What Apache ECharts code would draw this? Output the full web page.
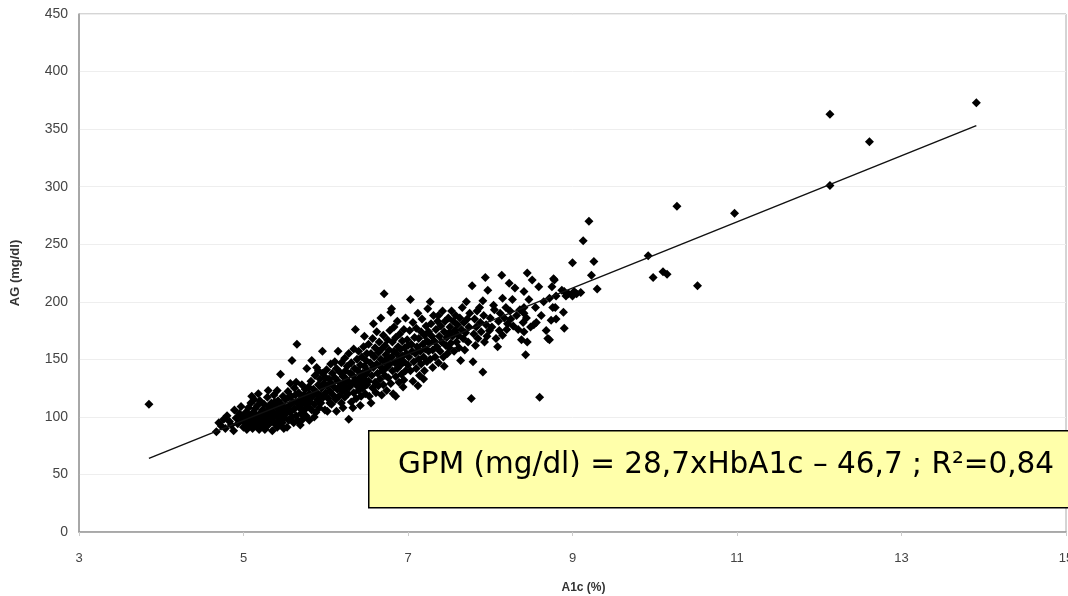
<!DOCTYPE html>
<html>
<head>
<meta charset="utf-8">
<style>
  html, body { margin: 0; padding: 0; background: #fff; }
  #chart { width: 1068px; height: 596px; }
</style>
<script src="https://cdn.jsdelivr.net/npm/echarts@6/dist/echarts.min.js"></script>
</head>
<body>
<div id="chart"></div>
<script>
  // axis ticks
  var xTicks = [3, 5, 7, 9, 11, 13, 15];
  var yTicks = [0, 50, 100, 150, 200, 250, 300, 350, 400, 450];

  // [A1c %, AG mg/dl], grouped by A1c band
  var band46 = [[4.67,87],[4.70,95],[4.73,92],[4.76,98],[4.78,90],[4.80,101],[4.83,96],[4.85,93],[4.88,88],[4.89,106],[4.91,99],[4.93,94],[4.95,103],[4.97,109],[4.98,97],[5.00,91],[5.00,100]];
  var band50 = [[5.02,95],[5.03,104],[5.04,89],[5.05,98],[5.06,108],[5.07,93],[5.08,101],[5.09,112],[5.10,118],[5.10,96],[5.11,90],[5.12,104],[5.13,99],[5.14,107],[5.15,93],[5.16,101],[5.17,110],[5.18,96],[5.19,89],[5.20,103],[5.20,114],[5.21,98],[5.22,92],[5.23,106],[5.24,100],[5.25,111],[5.25,95],[5.13,115],[5.06,102],[5.18,120]];
  var band525 = [[5.26,89],[5.27,104],[5.28,98],[5.29,117],[5.30,123],[5.30,93],[5.31,108],[5.32,101],[5.33,96],[5.34,112],[5.35,88],[5.35,105],[5.36,99],[5.37,119],[5.38,94],[5.39,109],[5.40,102],[5.41,123],[5.41,91],[5.42,114],[5.43,97],[5.44,106],[5.45,137],[5.45,100],[5.46,111],[5.47,95],[5.48,118],[5.48,104],[5.49,90],[5.50,108],[5.50,99],[5.38,113],[5.32,110],[5.44,93],[5.29,102]];
  var band55 = [[5.51,115],[5.52,103],[5.53,91],[5.54,122],[5.55,97],[5.56,110],[5.57,129],[5.57,104],[5.58,118],[5.59,149],[5.59,100],[5.60,113],[5.61,95],[5.62,125],[5.62,107],[5.63,119],[5.64,101],[5.65,163],[5.65,112],[5.66,97],[5.67,121],[5.68,108],[5.69,115],[5.70,103],[5.71,128],[5.71,111],[5.72,98],[5.73,119],[5.74,106],[5.75,113],[5.75,124],[5.55,117],[5.64,130],[5.53,108],[5.69,93]];
  var band575 = [[5.76,101],[5.77,142],[5.77,117],[5.78,109],[5.79,126],[5.80,97],[5.80,120],[5.81,113],[5.82,131],[5.83,149],[5.83,106],[5.84,118],[5.85,124],[5.86,111],[5.87,136],[5.88,104],[5.89,143],[5.89,121],[5.90,115],[5.91,128],[5.92,108],[5.93,133],[5.93,119],[5.94,112],[5.95,125],[5.96,157],[5.96,138],[5.97,117],[5.98,129],[5.99,106],[6.00,121],[6.00,134],[5.86,100],[5.91,140],[5.79,114]];
  var band60 = [[6.01,141],[6.02,105],[6.02,127],[6.03,116],[6.04,133],[6.05,122],[6.06,146],[6.07,111],[6.07,129],[6.08,138],[6.09,119],[6.10,126],[6.11,134],[6.12,115],[6.13,105],[6.13,142],[6.14,124],[6.15,157],[6.15,131],[6.16,118],[6.17,139],[6.18,127],[6.19,147],[6.19,112],[6.20,122],[6.21,135],[6.22,129],[6.23,117],[6.23,151],[6.24,140],[6.25,125],[6.25,133],[6.05,112],[6.11,148],[6.21,108]];
  var band625 = [[6.26,144],[6.27,120],[6.27,131],[6.28,155],[6.29,126],[6.30,138],[6.31,113],[6.31,147],[6.32,129],[6.33,136],[6.34,159],[6.34,121],[6.35,142],[6.36,176],[6.36,132],[6.37,116],[6.38,150],[6.38,127],[6.39,140],[6.40,123],[6.40,157],[6.41,134],[6.42,145],[6.43,118],[6.43,130],[6.44,152],[6.45,138],[6.45,125],[6.46,161],[6.47,144],[6.47,133],[6.48,120],[6.49,149],[6.49,137],[6.50,128],[6.50,155],[6.28,98],[6.33,108],[6.42,110],[6.47,170]];
  var band65 = [[6.51,140],[6.52,163],[6.52,131],[6.53,118],[6.54,147],[6.55,112],[6.55,155],[6.56,136],[6.57,125],[6.57,168],[6.58,143],[6.59,152],[6.60,130],[6.60,160],[6.61,121],[6.62,146],[6.62,174],[6.63,138],[6.64,156],[6.64,127],[6.65,165],[6.66,144],[6.66,133],[6.67,150],[6.68,119],[6.68,159],[6.69,140],[6.70,171],[6.70,128],[6.71,207],[6.71,148],[6.72,136],[6.72,162],[6.73,154],[6.74,123],[6.74,143],[6.75,167],[6.75,151],[6.58,181],[6.67,186]];
  var band675 = [[6.76,134],[6.77,158],[6.78,146],[6.78,175],[6.79,191],[6.79,129],[6.80,152],[6.81,165],[6.81,140],[6.82,120],[6.83,157],[6.83,178],[6.84,147],[6.85,135],[6.85,169],[6.86,155],[6.87,183],[6.87,142],[6.88,161],[6.89,130],[6.89,150],[6.90,172],[6.91,145],[6.91,159],[6.92,137],[6.93,166],[6.93,153],[6.94,126],[6.95,176],[6.95,148],[6.96,160],[6.97,140],[6.97,186],[6.98,155],[6.99,167],[7.00,145],[7.00,162],[6.85,118],[6.95,132],[6.80,194]];
  var band70 = [[7.01,152],[7.02,175],[7.03,202],[7.03,140],[7.04,163],[7.05,157],[7.06,182],[7.06,131],[7.07,148],[7.08,169],[7.09,155],[7.10,177],[7.10,142],[7.11,161],[7.12,190],[7.13,150],[7.13,168],[7.14,136],[7.15,157],[7.16,174],[7.16,146],[7.17,185],[7.18,163],[7.19,152],[7.20,171],[7.20,140],[7.21,159],[7.22,179],[7.23,148],[7.23,166],[7.24,194],[7.25,157],[7.25,174],[7.12,127],[7.19,133]];
  var band725 = [[7.26,164],[7.27,200],[7.27,150],[7.28,181],[7.29,170],[7.30,143],[7.30,158],[7.31,188],[7.32,166],[7.33,152],[7.34,176],[7.35,161],[7.36,183],[7.37,188],[7.37,147],[7.38,170],[7.39,157],[7.40,179],[7.41,165],[7.42,192],[7.43,152],[7.44,144],[7.44,174],[7.45,183],[7.46,162],[7.47,169],[7.48,155],[7.49,186],[7.50,173],[7.50,160]];
  var band75 = [[7.51,178],[7.52,164],[7.53,192],[7.54,170],[7.55,183],[7.56,157],[7.57,175],[7.58,188],[7.59,165],[7.60,180],[7.61,171],[7.62,160],[7.63,186],[7.64,149],[7.65,176],[7.66,195],[7.67,168],[7.68,182],[7.69,158],[7.70,173],[7.71,200],[7.72,185],[7.73,165],[7.74,178],[7.75,190]];
  var band775 = [[7.77,116],[7.78,214],[7.79,148],[7.80,172],[7.81,185],[7.82,162],[7.83,178],[7.84,192],[7.85,168],[7.87,195],[7.88,182],[7.89,174],[7.91,139],[7.91,201],[7.92,188],[7.93,165],[7.94,221],[7.95,180],[7.96,170],[7.97,210],[7.99,175],[8.00,186]];
  var band80 = [[8.02,178],[8.04,197],[8.05,193],[8.07,168],[8.09,161],[8.10,183],[8.12,190],[8.14,223],[8.15,203],[8.15,171],[8.17,186],[8.19,195],[8.20,176],[8.21,181],[8.23,216],[8.24,192],[8.25,185],[8.11,175]];
  var band825 = [[8.27,202],[8.28,179],[8.30,212],[8.32,188],[8.34,176],[8.36,193],[8.38,167],[8.40,182],[8.41,209],[8.41,195],[8.41,190],[8.41,174],[8.43,154],[8.44,186],[8.45,165],[8.45,225],[8.47,202],[8.49,178]];
  var band85 = [[8.51,219],[8.53,180],[8.55,195],[8.56,182],[8.59,213],[8.60,117],[8.62,188],[8.65,200],[8.68,175],[8.70,168],[8.72,203],[8.72,167],[8.74,184],[8.75,213]];
  var band875 = [[8.76,195],[8.77,220],[8.78,219],[8.79,195],[8.80,185],[8.80,205],[8.87,210],[8.89,191],[8.90,177],[8.90,209],[8.92,205],[8.95,207],[9.00,234],[9.00,205],[9.02,209],[9.05,207],[9.10,208],[9.13,253],[9.20,270],[9.23,223],[9.26,235],[9.30,211]];
  var outliers = [[3.85,111],[9.92,240],[9.98,221],[10.10,226],[10.15,224],[10.27,283],[10.52,214],[10.97,277],[12.13,363],[12.13,301],[12.61,339],[13.91,373]];

  // regression line end points
  var trendX = [3.85, 13.91];
  var trendY = [64, 353];

  var equation = 'GPM (mg/dl) = 28,7xHbA1c \u2013 46,7 ; R\u00b2=0,84';

  var points = [].concat(band46, band50, band525, band55, band575, band60, band625, band65,
    band675, band70, band725, band75, band775, band80, band825, band85, band875, outliers);
  var trend = trendX.map(function (x, i) { return [x, trendY[i]]; });

  var chart = echarts.init(document.getElementById('chart'));
  var labelStyle = { color: '#444', fontSize: 13, fontFamily: 'Liberation Sans, Arial, sans-serif' };

  var option = {
    animation: false,
    backgroundColor: '#fff',
    grid: {
      left: 79, right: 2, top: 14, bottom: 64,
      outerBoundsMode: 'none', containLabel: false,
      show: true, borderColor: '#aaa', borderWidth: 1
    },
    xAxis: {
      type: 'value', min: 3, max: 15, interval: 2,
      name: 'A1c (%)', nameLocation: 'middle', nameGap: 50,
      nameTextStyle: { color: '#333', fontSize: 12, fontWeight: 'bold', fontFamily: 'Liberation Sans, Arial, sans-serif', padding: [0, 0, 0, 22] },
      axisLine: { lineStyle: { color: '#999', width: 1.5 } },
      axisTick: { show: true, length: 4, lineStyle: { color: '#ccc' } },
      axisLabel: Object.assign({ margin: 20, showMaxLabel: true }, labelStyle),
      splitLine: { show: false }
    },
    yAxis: {
      type: 'value', min: 0, max: 450, interval: 50,
      name: 'AG (mg/dl)', nameLocation: 'middle', nameGap: 57, nameRotate: 90,
      nameTextStyle: { color: '#333', fontSize: 13, fontWeight: 'bold', fontFamily: 'Liberation Sans, Arial, sans-serif' },
      axisLine: { show: true, lineStyle: { color: '#999', width: 1.5 } },
      axisTick: { show: false },
      axisLabel: Object.assign({ margin: 11 }, labelStyle, { fontSize: 14 }),
      splitLine: { lineStyle: { color: '#eee', width: 1 } }
    },
    series: [
      {
        type: 'line', data: trend, showSymbol: false, symbol: 'none',
        lineStyle: { color: '#111', width: 1.5 }, z: 3
      },
      {
        type: 'scatter', data: points, symbol: 'diamond', symbolSize: 9,
        itemStyle: { color: '#000', opacity: 1 }, z: 2
      }
    ],
    graphic: [
      {
        type: 'rect', left: 368, top: 430, z: 10,
        shape: { width: 720, height: 77 },
        style: { fill: '#ffffaa', stroke: '#000', lineWidth: 1.5 }
      },
      {
        type: 'text', left: 398, top: 450, z: 11,
        style: { text: equation, fill: '#000', fontSize: 29.5, fontFamily: 'DejaVu Sans, sans-serif' }
      }
    ]
  };
  chart.setOption(option);
</script>
</body>
</html>
